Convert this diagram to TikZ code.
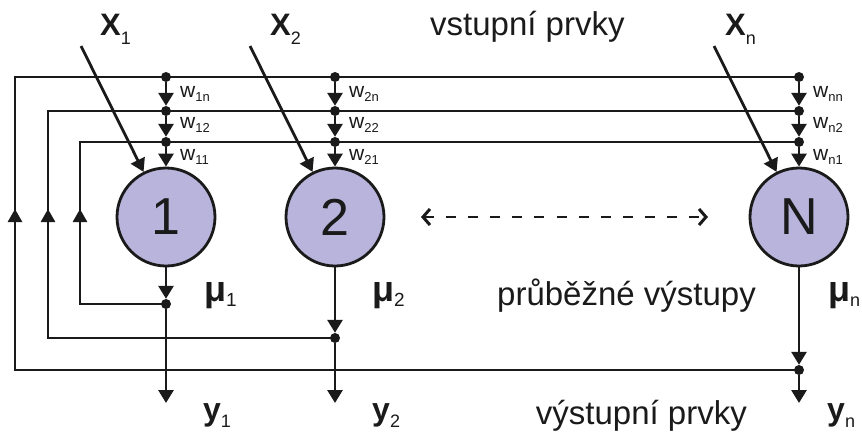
\documentclass[tikz,border=0pt]{standalone}
\usepackage{fontspec}
\setmainfont{Liberation Sans}
\usetikzlibrary{arrows.meta}
\definecolor{neuron}{HTML}{B8B4DC}
\definecolor{ink}{HTML}{1A1A1A}
% #1 symbol, #2 symbol size, #3 sub size, #4 drop, #5 subscript
\newcommand{\symsub}[5]{{\fontsize{#2}{#2}\selectfont\bfseries #1}\raisebox{-#4}{\fontsize{#3}{#3}\selectfont\mdseries #5}}
\newcommand{\wsub}[1]{{\fontsize{21}{21}\selectfont w}\raisebox{-4pt}{\fontsize{13}{13}\selectfont #1}}
\begin{document}
\begin{tikzpicture}[x=1pt,y=-1pt,
  wire/.style={draw=ink,line width=2.8pt},
  fb/.style={draw=ink,line width=2.6pt},
  arr/.style={wire,-{Triangle[width=15pt,length=13pt]}},
  uparr/.style={fb,-{Triangle[width=14pt,length=13pt]}},
  dotnode/.style={circle,fill=ink,inner sep=0pt,minimum size=10pt},
  neuronnode/.style={circle,draw=ink,line width=2.8pt,fill=neuron,minimum size=98pt,inner sep=0pt,font=\fontsize{52}{52}\selectfont,text=ink},
  lbl/.style={inner sep=0pt,anchor=base west,text=ink},
  dashedarrow/.style={draw=ink,line width=2.8pt,dash pattern=on 10pt off 12pt,{Straight Barb[length=7pt,width=16pt,line width=3pt]}-{Straight Barb[length=7pt,width=16pt,line width=3pt]}},
]
\useasboundingbox (0,0) rectangle (862,432);

% neurons
\node[neuronnode] (n1) at (166,217) {1};
\node[neuronnode] (n2) at (335,217) {2};
\node[neuronnode] (nN) at (799,217) {N};

% top junction dots
\foreach \c/\x in {1/166,2/335,N/799}{
  \node[dotnode] (t\c a) at (\x,77) {};
  \node[dotnode] (t\c b) at (\x,111) {};
  \node[dotnode] (t\c c) at (\x,142) {};
}
% output dots
\node[dotnode] (o1) at (166,304) {};
\node[dotnode] (o2) at (335,338) {};
\node[dotnode] (oN) at (799,370) {};

% corner coordinates
\coordinate (la) at (15,77);
\coordinate (lb) at (48,111);
\coordinate (lc) at (80,142);
\coordinate (la2) at (15,370);
\coordinate (lb2) at (48,338);
\coordinate (lc2) at (80,304);
\coordinate (ma) at (15,209);
\coordinate (mb) at (48,209);
\coordinate (mc) at (80,209);
\coordinate (ma2) at (15,214);
\coordinate (mb2) at (48,214);
\coordinate (mc2) at (80,214);
\coordinate (y1e) at (166,403);
\coordinate (y2e) at (335,403);
\coordinate (yNe) at (799,403);
\coordinate (x1s) at (81,46);
\coordinate (x2s) at (250,46);
\coordinate (xNs) at (714,46);
\coordinate (dl) at (421,217);
\coordinate (dr) at (708,217);

% feedback loops
\draw[fb] (oN.center) -- (la2) -- (ma2);
\draw[uparr] (la2) -- (ma);
\draw[fb] (ma2) -- (la) -- (tNa.center);
\draw[fb] (o2.center) -- (lb2) -- (mb2);
\draw[uparr] (lb2) -- (mb);
\draw[fb] (mb2) -- (lb) -- (tNb.center);
\draw[fb] (o1.center) -- (lc2) -- (mc2);
\draw[uparr] (lc2) -- (mc);
\draw[fb] (mc2) -- (lc) -- (tNc.center);

% weighted inputs into neurons
\foreach \c in {1,2,N}{
  \draw[arr] (t\c a) -- (t\c b);
  \draw[arr] (t\c b) -- (t\c c);
  \draw[arr] (t\c c) -- (n\c);
}
% outputs
\draw[arr] (n1) -- (o1);
\draw[arr] (o1) -- (y1e);
\draw[arr] (n2) -- (o2);
\draw[arr] (o2) -- (y2e);
\draw[arr] (nN) -- (oN);
\draw[arr] (oN) -- (yNe);

% external inputs
\draw[arr] (x1s) -- (n1);
\draw[arr] (x2s) -- (n2);
\draw[arr] (xNs) -- (nN);

% dashed arrow
\draw[dashedarrow] (dl) -- (dr);

% input labels
\node[lbl] (lx1) at (100,35) {\symsub{X}{31}{18}{9pt}{1}};
\node[lbl] (lx2) at (270,35) {\symsub{X}{31}{18}{9pt}{2}};
\node[lbl] (lxN) at (725,35) {\symsub{X}{31}{18}{9pt}{n}};
\node[lbl,font=\fontsize{33}{33}\selectfont] (lin) at (430,35) {vstupní prvky};

% weight labels
\node[lbl] (w1n) at (180,97) {\wsub{1n}};
\node[lbl] (w12) at (180,128) {\wsub{12}};
\node[lbl] (w11) at (180,160) {\wsub{11}};
\node[lbl] (w2n) at (349,97) {\wsub{2n}};
\node[lbl] (w22) at (349,128) {\wsub{22}};
\node[lbl] (w21) at (349,160) {\wsub{21}};
\node[lbl] (wnn) at (813,97) {\wsub{nn}};
\node[lbl] (wn2) at (813,128) {\wsub{n2}};
\node[lbl] (wn1) at (813,160) {\wsub{n1}};

% intermediate outputs
\node[lbl] (mu1) at (204,301) {\symsub{μ}{36}{19}{5pt}{1}};
\node[lbl] (mu2) at (372,301) {\symsub{μ}{36}{19}{5pt}{2}};
\node[lbl] (muN) at (828,301) {\symsub{μ}{36}{18}{5pt}{n}};
\node[lbl,font=\fontsize{33}{33}\selectfont] (lmid) at (497,305) {průběžné výstupy};

% outputs labels
\node[lbl] (ly1) at (203,420) {\symsub{y}{32}{18}{7pt}{1}};
\node[lbl] (ly2) at (372,420) {\symsub{y}{32}{18}{7pt}{2}};
\node[lbl] (lyN) at (827,420) {\symsub{y}{32}{18}{7pt}{n}};
\node[inner sep=0pt,anchor=base east,text=ink,font=\fontsize{33}{33}\selectfont] (lout) at (747,424) {výstupní prvky};
\end{tikzpicture}
\end{document}
